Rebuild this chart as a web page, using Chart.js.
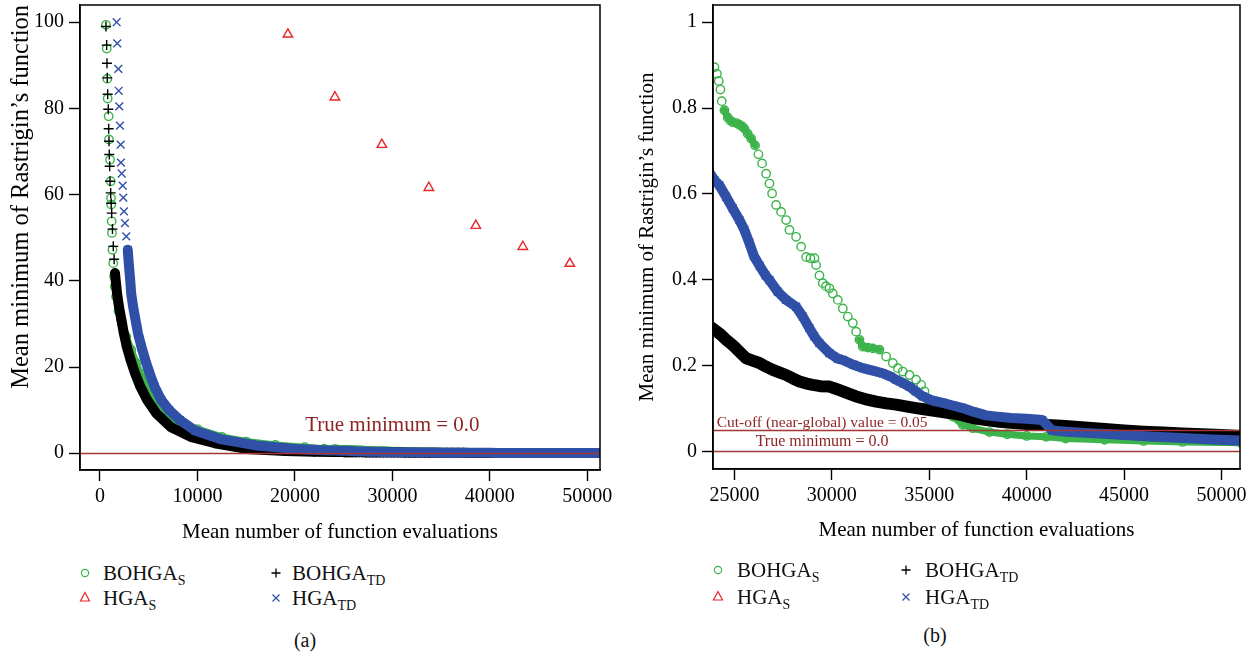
<!DOCTYPE html>
<html>
<head>
<meta charset="utf-8">
<script src="https://cdn.jsdelivr.net/npm/chart.js@4.4.0/dist/chart.umd.min.js"></script>
<style>
body { margin:0; background:#fff; width:1248px; height:655px; overflow:hidden; position:relative; font-family:'Liberation Serif', serif; color:#111; }
canvas { position:absolute; top:0; }
.lg { position:absolute; font-size:21px; line-height:24px; white-space:nowrap; }
.lg sub { font-size:14px; vertical-align:-5px; line-height:0; }
.sym { position:absolute; }
.cap { position:absolute; font-size:20px; line-height:24px; transform:translateX(-50%); }
</style>
</head>
<body>
<canvas id="left" width="624" height="560" style="left:0"></canvas>
<canvas id="right" width="624" height="560" style="left:624px"></canvas>

<!-- legend (a) -->
<svg class="sym" style="left:79px;top:567px" width="12" height="12"><circle cx="6" cy="6" r="3.6" fill="none" stroke="#3cb44b" stroke-width="1.2"/></svg>
<div class="lg" style="left:103px;top:561px">BOHGA<sub>S</sub></div>
<svg class="sym" style="left:79px;top:591px" width="12" height="12"><polygon points="6,1.5 10.5,10 1.5,10" fill="none" stroke="#e8262b" stroke-width="1.2"/></svg>
<div class="lg" style="left:103px;top:586px">HGA<sub>S</sub></div>
<svg class="sym" style="left:270px;top:567px" width="12" height="12"><path d="M6 1.5V10.5M1.5 6H10.5" stroke="#000" stroke-width="1.3"/></svg>
<div class="lg" style="left:292px;top:561px">BOHGA<sub>TD</sub></div>
<svg class="sym" style="left:270px;top:592px" width="12" height="12"><path d="M2.5 2.5L9.5 9.5M9.5 2.5L2.5 9.5" stroke="#3050a8" stroke-width="1.2"/></svg>
<div class="lg" style="left:292px;top:586px">HGA<sub>TD</sub></div>
<div class="cap" style="left:305px;top:628px">(a)</div>

<!-- legend (b) -->
<svg class="sym" style="left:712px;top:564px" width="12" height="12"><circle cx="6" cy="6" r="3.6" fill="none" stroke="#3cb44b" stroke-width="1.2"/></svg>
<div class="lg" style="left:737px;top:558px">BOHGA<sub>S</sub></div>
<svg class="sym" style="left:712px;top:590px" width="12" height="12"><polygon points="6,1.5 10.5,10 1.5,10" fill="none" stroke="#e8262b" stroke-width="1.2"/></svg>
<div class="lg" style="left:737px;top:585px">HGA<sub>S</sub></div>
<svg class="sym" style="left:900px;top:564px" width="12" height="12"><path d="M6 1.5V10.5M1.5 6H10.5" stroke="#000" stroke-width="1.3"/></svg>
<div class="lg" style="left:925px;top:558px">BOHGA<sub>TD</sub></div>
<svg class="sym" style="left:900px;top:591px" width="12" height="12"><path d="M2.5 2.5L9.5 9.5M9.5 2.5L2.5 9.5" stroke="#3050a8" stroke-width="1.2"/></svg>
<div class="lg" style="left:925px;top:585px">HGA<sub>TD</sub></div>
<div class="cap" style="left:935px;top:623px">(b)</div>

<script>
// mean number of evaluations, mean minimum of Rastrigin's function
const bohgaS = [
  [615,99.4],[690,93.9],[750,86.9],[790,82.3],[890,78.2],[920,72.8],[1030,68.1],[1100,63.1],[1130,59.2],
  [1150,57.7],[1200,53.8],[1230,51.1],[1280,47.2],[1360,44.1],[1440,41.0],[1520,38.7],[1650,36.3],[1900,33.0],
  [2300,30.0],[2700,27.0],[3200,24.0],[3700,21.0],[4150,18.5],[4600,16.5],[5200,14.0],[5900,11.7],[6700,9.5],
  [7700,7.6],[8800,6.2],[10000,5.6],[12500,3.8],[15000,2.7],[18000,1.9],[21000,1.4],[23000,1.05],
  [23974,0.895],[24100,0.88],[24194,0.863],[24281,0.843],[24350,0.816],[24487,0.795],[24658,0.778],[24800,0.770],
  [24915,0.767],[25100,0.765],[25257,0.761],[25400,0.757],[25513,0.752],[25684,0.740],[25855,0.729],[26060,0.713],
  [26232,0.692],[26420,0.671],[26626,0.647],[26797,0.624],[26934,0.601],[27140,0.574],[27396,0.558],[27653,0.539],
  [27824,0.516],[28166,0.500],[28423,0.477],[28680,0.453],[28900,0.450],[29106,0.450],[29192,0.434],[29363,0.410],
  [29535,0.392],[29700,0.385],[29877,0.380],[30048,0.368],[30305,0.353],[30562,0.333],[30818,0.314],[31075,0.299],
  [31246,0.279],[31417,0.260],[31588,0.244],[31850,0.242],[32102,0.240],[32444,0.237],[32786,0.221],[33129,0.206],
  [33385,0.194],[33642,0.186],[33984,0.178],[34326,0.167],[34583,0.155],[34754,0.140],[34925,0.120],[35181,0.105],
  [35695,0.097],[36208,0.081],[36721,0.062],[37235,0.054],[38091,0.045],[39000,0.040],[40000,0.036],[41000,0.034],
  [42000,0.030],[44000,0.027],[46000,0.024],[48000,0.022],[51000,0.020]
];
const hgaS = [[19280,97.2],[24100,82.6],[28920,71.6],[33740,61.6],[38560,52.8],[43380,47.9],[48200,44.0]];
const bohgaTD = [
  [615,99.0],[687,94.7],[718,90.5],[749,87.1],[790,83.3],[851,79.8],[892,75.3],[923,72.4],[954,69.3],[995,66.6],
  [1026,63.1],[1097,60.4],[1150,58.0],[1200,55.7],[1280,52.0],[1364,48.0],[1450,45.0],[1540,41.8],[1640,39.5],
  [1750,37.1],[1950,34.0],[2200,30.9],[2450,27.8],[2750,24.7],[3150,21.6],[3600,18.5],[4150,15.4],[4850,12.3],
  [5800,9.2],[7300,6.0],[9300,3.8],[11800,2.3],[15000,1.0],[19000,0.5],[22000,0.35],
  [23974,0.283],[24300,0.272],[24572,0.260],[24850,0.250],[25085,0.240],[25350,0.228],[25598,0.217],[25900,0.212],
  [26283,0.206],[26600,0.198],[26968,0.190],[27300,0.184],[27653,0.178],[28000,0.170],[28337,0.163],[28700,0.158],
  [29021,0.155],[29400,0.152],[29877,0.151],[30200,0.146],[30562,0.140],[30900,0.134],[31246,0.128],[31700,0.122],
  [32273,0.116],[32800,0.112],[33300,0.109],[33800,0.105],[34326,0.101],[34900,0.097],[35523,0.093],[36100,0.089],
  [36721,0.084],[37300,0.077],[37919,0.073],[38600,0.069],[39300,0.066],[40000,0.064],[40700,0.062],[41300,0.061],
  [42000,0.059],[43000,0.056],[44000,0.052],[45000,0.049],[46000,0.046],[47000,0.044],[48000,0.042],[49000,0.040],
  [50000,0.038],[51000,0.036]
];
const hgaTD = [
  [1710,100],[1770,95.1],[1880,89.2],[1920,84.1],[1980,80.5],[2050,76.0],[2120,71.6],[2150,67.4],[2230,64.9],
  [2330,62.1],[2390,59.3],[2460,56.1],[2560,53.4],[2700,50.3],[2850,47.2],[2950,44.1],[3100,40.2],[3200,37.1],
  [3400,34.0],[3650,30.9],[3900,27.8],[4250,24.7],[4650,21.6],[5100,18.5],[5600,15.4],[6300,12.3],[7100,10.0],
  [8200,7.7],[9800,5.2],[12500,3.2],[16000,1.8],[20000,1.0],[23000,0.7],
  [23974,0.632],[24230,0.620],[24572,0.593],[24915,0.566],[25257,0.539],[25513,0.516],[25770,0.485],[26000,0.455],
  [26300,0.432],[26600,0.410],[26800,0.399],[27225,0.372],[27653,0.353],[28166,0.337],[28508,0.314],[28850,0.287],
  [29100,0.268],[29363,0.252],[29877,0.229],[30300,0.216],[30562,0.213],[31100,0.202],[31588,0.194],[32100,0.188],
  [32615,0.182],[33000,0.175],[33300,0.167],[33700,0.158],[33984,0.151],[34300,0.140],[34668,0.128],[35200,0.118],
  [35695,0.113],[36200,0.107],[36721,0.101],[37300,0.092],[37919,0.084],[38500,0.081],[39200,0.078],[40000,0.076],
  [40800,0.073],[41300,0.049],[42000,0.046],[43500,0.042],[45000,0.038],[46500,0.034],[48000,0.031],[49500,0.028],
  [51000,0.025]
];

const xTicksA = [0, 10000, 20000, 30000, 40000, 50000];
const yTicksA = [0, 20, 40, 60, 80, 100];
const xTicksB = [25000, 30000, 35000, 40000, 45000, 50000];
const yTicksB = [0, 0.2, 0.4, 0.6, 0.8, 1];

const GREEN = '#3cb44b', RED = '#e8262b', BLUE = '#3050a8', LINE_RED = '#a33636';
const FONT = 'Liberation Serif';
const pts = a => a.map(p => ({x: p[0], y: p[1]}));

// frame box, reference lines and notes
const framePlugin = {
  id: 'frame',
  afterDatasetsDraw(chart, args, opts) {
    const {ctx, chartArea: a, scales: {x, y}} = chart;
    ctx.save();
    ctx.beginPath();
    ctx.rect(a.left, a.top, a.right - a.left, a.bottom - a.top);
    ctx.clip();
    ctx.strokeStyle = LINE_RED;
    ctx.lineWidth = 1.4;
    opts.lines.forEach(v => {
      const py = Math.round(y.getPixelForValue(v)) + 0.5;
      ctx.beginPath(); ctx.moveTo(a.left, py); ctx.lineTo(a.right, py); ctx.stroke();
    });
    ctx.restore();
    ctx.save();
    ctx.fillStyle = '#8e2424';
    ctx.textAlign = 'center';
    ctx.textBaseline = 'middle';
    opts.notes.forEach(n => {
      ctx.font = n.size + 'px "' + FONT + '"';
      ctx.fillText(n.text, x.getPixelForValue(n.x), y.getPixelForValue(n.y));
    });
    ctx.strokeStyle = '#000';
    ctx.lineWidth = 1.5;
    ctx.strokeRect(a.left, a.top, a.right - a.left, a.bottom - a.top);
    ctx.restore();
  }
};

function lineWhen(color, test) {
  return { borderColor: c => test(c.p0.parsed, c.p1.parsed) ? color : 'rgba(0,0,0,0)' };
}

function makeChart(id, cfg) {
  const series = [
    { data: pts(hgaTD), pointStyle: 'crossRot', radius: 5.5, color: BLUE, lw: cfg.bw[0], seg: cfg.seg[0], order: 1 },
    { data: pts(bohgaTD), pointStyle: 'cross', radius: 5, color: '#000', lw: cfg.bw[1], seg: cfg.seg[1], order: 2 },
    { data: pts(hgaS), pointStyle: 'triangle', radius: 5.5, color: RED, lw: 0, seg: () => false, order: 3 },
    { data: pts(bohgaS), pointStyle: 'circle', radius: 4.2, color: GREEN, lw: cfg.bw[2], seg: cfg.seg[2], order: 4 }
  ];
  return new Chart(document.getElementById(id), {
    type: 'scatter',
    data: {
      datasets: series.map(s => ({
        data: s.data,
        order: s.order,
        showLine: s.lw > 0,
        borderWidth: s.lw,
        borderColor: s.color,
        borderJoinStyle: 'round',
        borderCapStyle: 'round',
        segment: lineWhen(s.color, s.seg),
        pointStyle: s.pointStyle,
        pointRadius: s.radius,
        pointBorderColor: s.color,
        pointBackgroundColor: 'rgba(0,0,0,0)',
        pointBorderWidth: 1.4
      }))
    },
    options: {
      responsive: false,
      devicePixelRatio: 1,
      animation: false,
      events: [],
      layout: { autoPadding: false, padding: { left: 0, top: 5, right: cfg.padRight, bottom: 0 } },
      plugins: {
        legend: { display: false },
        tooltip: { enabled: false },
        frame: { lines: cfg.lines, notes: cfg.notes }
      },
      scales: {
        x: {
          type: 'linear', min: cfg.xMin, max: cfg.xMax,
          afterFit: s => { s.height = cfg.xAxisH; s.paddingLeft = 0; s.paddingRight = 0; },
          afterBuildTicks: s => { s.ticks = cfg.xTicks.map(v => ({ value: v })); },
          border: { display: true, color: '#000', width: 1.5 },
          grid: { drawOnChartArea: false, tickLength: 11, tickColor: '#000', tickWidth: 1.4 },
          ticks: { color: '#000', autoSkip: false, maxRotation: 0, padding: 4, font: { family: FONT, size: 20 }, callback: v => String(v) },
          title: { display: true, text: 'Mean number of function evaluations', color: '#000', font: { family: FONT, size: 21 }, padding: { top: 0, bottom: cfg.xTitlePad } }
        },
        y: {
          type: 'linear', min: cfg.yMin, max: cfg.yMax,
          afterFit: s => { s.width = cfg.yAxisW; s.paddingTop = 0; s.paddingBottom = 0; },
          afterBuildTicks: s => { s.ticks = cfg.yTicks.map(v => ({ value: v })); },
          border: { display: true, color: '#000', width: 1.5 },
          grid: { drawOnChartArea: false, tickLength: 11, tickColor: '#000', tickWidth: 1.4 },
          ticks: { color: '#000', autoSkip: false, padding: 5, font: { family: FONT, size: 20 }, callback: v => String(v) },
          title: { display: true, align: cfg.yTitleAlign, text: 'Mean minimum of Rastrigin\u2019s function', color: '#000', font: { family: FONT, size: cfg.yTitleSize }, padding: { top: cfg.yTitlePad, bottom: 0 } }
        }
      }
    },
    plugins: [framePlugin]
  });
}

// (a) full range
makeChart('left', {
  xMin: -2050, xMax: 51300, yMin: -3.9, yMax: 104,
  xTicks: xTicksA, yTicks: yTicksA,
  padRight: 24, yAxisW: 80, xAxisH: 90, xTitlePad: 15, yTitleSize: 24.5, yTitlePad: 7, yTitleAlign: 'end',
  bw: [10, 10, 7],
  seg: [(a, b) => b.y < 46, (a, b) => b.y < 40, (a, b) => b.y < 38],
  lines: [0],
  notes: [{ text: 'True minimum = 0.0', x: 30000, y: 6.5, size: 21 }]
});

// (b) zoom on the tail
makeChart('right', {
  xMin: 23900, xMax: 50950, yMin: -0.041, yMax: 1.04,
  xTicks: xTicksB, yTicks: yTicksB,
  padRight: 8, yAxisW: 89, xAxisH: 91, xTitlePad: 17, yTitleSize: 21, yTitlePad: 11, yTitleAlign: 'center',
  bw: [10, 12, 7],
  seg: [() => true, () => true,
        (a, b) => (a.x >= 24450 && b.x <= 26100) || (a.x >= 31300 && b.x <= 32500) || a.x >= 34850],
  lines: [0, 0.05],
  notes: [
    { text: 'Cut-off (near-global) value = 0.05', x: 29500, y: 0.066, size: 15.5 },
    { text: 'True minimum = 0.0', x: 29500, y: 0.0226, size: 16 }
  ]
});
</script>
</body>
</html>
